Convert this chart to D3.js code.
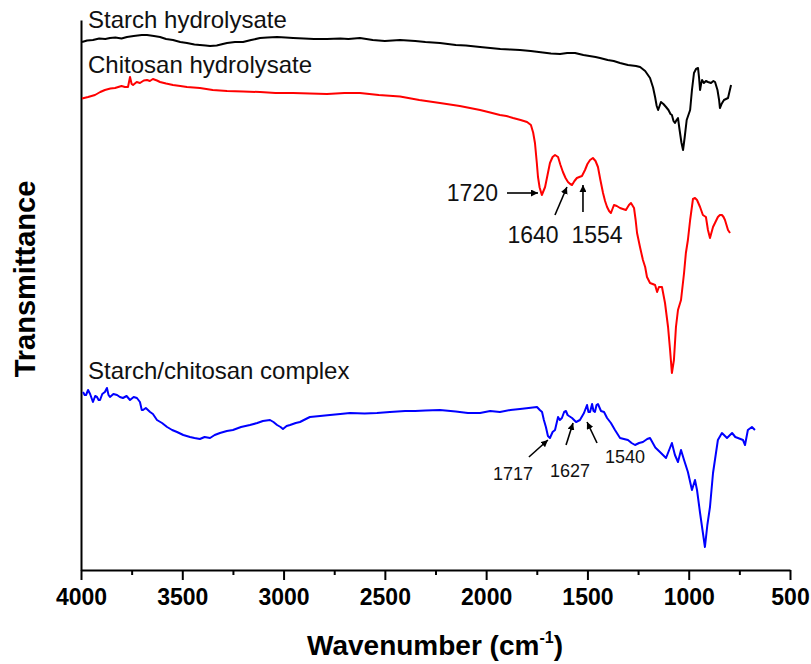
<!DOCTYPE html>
<html>
<head>
<meta charset="utf-8">
<script src="https://cdn.jsdelivr.net/npm/d3@7/dist/d3.min.js"></script>
<style>
  html, body { margin: 0; padding: 0; background: #fff; }
  svg { display: block; font-family: "Liberation Sans", Arial, Helvetica, sans-serif; }
</style>
</head>
<body>
<svg id="chart" width="811" height="664"></svg>
<script>
// FTIR spectra: [wavenumber (cm-1), transmittance (a.u., curves offset vertically)]
const starchHydrolysate = [
  [3995,105.6],[3970,105.9],[3941,106.0],[3910,106.3],[3880,106.2],[3857,106.4],[3830,106.5],[3800,106.3],
  [3773,106.6],[3740,106.8],[3700,107.0],[3674,107.0],[3640,106.8],[3610,106.6],[3580,106.2],[3546,106.0],
  [3510,105.6],[3477,105.4],[3440,105.1],[3413,105.0],[3385,104.9],[3363,104.8],[3330,104.9],[3300,105.2],
  [3279,105.4],[3240,105.6],[3200,105.6],[3160,106.0],[3116,106.4],[3080,106.5],[3032,106.6],[2990,106.5],
  [2953,106.4],[2900,106.3],[2850,106.2],[2786,106.2],[2720,106.3],[2680,106.2],[2623,106.4],[2560,106.0],
  [2500,105.8],[2425,106.0],[2350,105.8],[2300,105.6],[2228,105.4],[2150,105.0],[2100,104.9],[2030,104.6],
  [1980,104.4],[1930,104.2],[1880,104.1],[1833,104.0],[1780,103.8],[1720,103.5],[1680,103.3],[1635,103.2],
  [1600,103.4],[1561,103.4],[1520,103.0],[1490,102.8],[1460,102.6],[1438,102.4],[1400,102.0],[1370,101.8],
  [1339,101.4],[1300,101.0],[1260,100.8],[1240,100.6],[1215,99.8],[1191,98.4],[1176,96.5],[1166,94.6],
  [1158,92.8],[1151,92.0],[1144,92.8],[1137,93.6],[1125,93.2],[1112,92.6],[1100,92.0],[1090,91.2],
  [1083,91.0],[1075,89.8],[1068,89.4],[1060,90.0],[1053,90.4],[1045,88.0],[1036,85.5],[1028,84.0],
  [1020,86.5],[1010,90.0],[993,92.0],[984,96.0],[974,99.4],[964,100.2],[954,100.4],[949,98.5],
  [944,96.0],[939,97.2],[934,98.0],[925,97.4],[915,97.8],[905,97.6],[890,97.4],[878,97.8],
  [870,97.6],[858,96.0],[850,94.0],[846,92.4],[838,93.2],[826,94.0],[816,94.2],[806,94.4],
  [798,95.8],[791,97.0]
];

const chitosanHydrolysate = [
  [3995,94.3],[3965,94.6],[3931,95.0],[3905,95.6],[3882,96.0],[3855,96.3],[3832,96.4],[3800,96.8],
  [3783,96.6],[3768,96.6],[3758,98.6],[3750,97.2],[3743,97.0],[3725,97.6],[3709,97.4],[3690,97.9],
  [3674,98.0],[3660,97.8],[3645,98.2],[3625,97.9],[3610,97.6],[3580,97.3],[3546,97.0],[3510,96.8],
  [3477,96.6],[3445,96.5],[3413,96.4],[3350,96.0],[3279,95.8],[3200,95.7],[3116,95.6],[3040,95.4],
  [2953,95.4],[2870,95.3],[2786,95.2],[2700,95.4],[2623,95.4],[2530,95.0],[2425,94.7],[2330,94.0],
  [2228,93.4],[2130,92.8],[2030,92.0],[1980,91.5],[1932,91.0],[1900,90.8],[1867,90.4],[1830,90.0],
  [1798,89.6],[1779,89.0],[1768,87.5],[1759,85.4],[1750,81.5],[1744,78.6],[1736,76.5],[1725,75.0],
  [1709,76.6],[1697,79.0],[1685,81.4],[1672,82.6],[1660,83.0],[1645,82.6],[1633,81.0],[1621,79.6],
  [1608,78.4],[1596,77.6],[1585,77.2],[1576,77.0],[1564,77.8],[1552,78.4],[1540,78.6],[1527,78.8],
  [1512,80.0],[1500,81.2],[1487,82.0],[1473,82.4],[1460,81.8],[1448,80.6],[1436,78.0],[1423,75.4],
  [1413,73.8],[1403,72.6],[1393,71.8],[1384,71.4],[1369,73.0],[1355,72.8],[1339,72.4],[1325,72.2],
  [1310,72.0],[1295,73.0],[1285,73.4],[1270,72.4],[1262,70.0],[1255,67.4],[1240,64.5],[1226,62.0],
  [1215,60.6],[1206,58.6],[1191,57.4],[1178,57.2],[1166,57.0],[1156,55.6],[1147,56.6],[1132,56.6],
  [1117,53.4],[1102,48.6],[1092,44.0],[1083,39.4],[1073,42.0],[1063,48.6],[1053,52.0],[1038,54.0],
  [1023,59.4],[1014,63.4],[1004,66.0],[993,70.0],[979,74.2],[969,74.4],[959,74.0],[944,72.6],
  [930,71.0],[915,70.6],[905,68.0],[895,66.4],[880,68.6],[868,69.6],[856,70.6],[846,71.0],
  [836,71.0],[828,70.6],[821,70.0],[806,68.0],[796,67.4]
];

const starchChitosanComplex = [
  [3990,35.6],[3982,35.0],[3975,35.0],[3965,36.0],[3955,35.2],[3941,33.6],[3930,34.8],[3921,34.6],
  [3913,34.0],[3906,34.0],[3895,35.2],[3882,35.6],[3872,36.4],[3864,35.0],[3857,34.6],[3840,35.2],
  [3822,35.0],[3808,34.6],[3793,34.4],[3775,34.8],[3758,34.0],[3740,34.6],[3724,34.4],[3709,33.6],
  [3700,32.0],[3694,32.0],[3680,32.4],[3659,31.6],[3645,31.2],[3625,30.0],[3600,29.4],[3575,28.6],
  [3550,28.0],[3526,27.6],[3495,27.0],[3462,26.6],[3440,26.4],[3413,26.2],[3390,26.6],[3363,26.4],
  [3340,27.0],[3314,27.4],[3280,27.8],[3250,28.0],[3210,28.6],[3166,29.0],[3130,29.4],[3102,29.8],
  [3067,30.0],[3050,29.6],[3032,29.0],[3015,28.6],[3003,28.2],[2985,28.8],[2968,29.0],[2940,29.4],
  [2919,29.6],[2890,30.2],[2870,30.6],[2820,30.8],[2771,31.0],[2720,31.2],[2672,31.4],[2600,31.3],
  [2539,31.4],[2475,31.6],[2400,31.8],[2350,31.8],[2300,31.9],[2228,32.0],[2150,31.7],[2090,31.4],
  [2030,31.4],[1980,31.8],[1932,31.6],[1880,32.0],[1833,32.2],[1790,32.4],[1749,32.6],[1735,32.0],
  [1724,31.6],[1715,30.0],[1705,28.6],[1695,26.8],[1685,26.4],[1672,27.6],[1660,28.0],[1645,30.6],
  [1636,30.0],[1626,30.4],[1615,31.6],[1606,31.8],[1598,31.0],[1591,30.8],[1576,30.4],[1556,29.6],
  [1537,30.0],[1517,31.4],[1502,33.0],[1495,31.6],[1487,31.6],[1477,33.2],[1470,31.8],[1463,31.6],
  [1455,33.0],[1448,33.2],[1433,31.8],[1418,31.6],[1403,30.4],[1384,29.4],[1364,28.0],[1339,26.4],
  [1320,26.2],[1300,26.0],[1282,25.4],[1265,25.0],[1245,25.4],[1226,25.6],[1205,26.2],[1191,26.4],
  [1165,24.5],[1142,23.6],[1112,22.4],[1083,25.4],[1068,23.0],[1053,21.6],[1038,24.0],[1023,22.0],
  [1004,19.6],[984,16.0],[969,18.0],[959,16.0],[944,11.4],[932,8.0],[920,4.6],[908,9.0],
  [895,12.6],[880,19.4],[856,26.0],[836,27.4],[811,26.4],[786,27.4],[770,26.6],[757,26.4],
  [732,26.0],[722,25.0],[708,28.0],[688,28.6],[673,28.0]
];

const seriesNames = ["Starch hydrolysate", "Chitosan hydrolysate", "Starch/chitosan complex"];
const seriesColors = ["#000000", "#ff0000", "#0000ff"];
const seriesData = [starchHydrolysate, chitosanHydrolysate, starchChitosanComplex];

// Tick labels on the wavenumber axis
const majorTicks = [4000, 3500, 3000, 2500, 2000, 1500, 1000, 500];
const minorTicks = [3750, 3250, 2750, 2250, 1750, 1250, 750];

// Band assignments: label, arrow tip wavenumber, arrow tip transmittance
const peakLabels = ["1720", "1640", "1554", "1717", "1627", "1540"];
const peakTipWn  = [1744, 1601, 1522, 1695, 1571, 1502];
const peakTipT   = [75.4, 76.6, 77.0, 26.0, 29.4, 29.6];

// Layout of the annotation arrows (pixel offsets from the tip)
const peakLayout = [
  { tail: [-31, 0],  text: [-40, 8],  anchor: "end",    size: 23 },
  { tail: [-12, 28], text: [-34, 56], anchor: "middle", size: 23 },
  { tail: [0, 27],   text: [14, 58],  anchor: "middle", size: 23 },
  { tail: [-19, 17], text: [-35, 40], anchor: "middle", size: 18 },
  { tail: [-7, 22],  text: [-3, 54],  anchor: "middle", size: 18 },
  { tail: [10, 21],  text: [38, 41],  anchor: "middle", size: 18 }
];

const svg = d3.select("#chart");
const x = d3.scaleLinear().domain([4000, 500]).range([81, 790]);
const y = d3.scaleLinear().domain([0, 110]).range([570, 20]);

// Arrowhead marker
svg.append("defs").append("marker")
  .attr("id", "arrowhead")
  .attr("viewBox", "0 0 10 10")
  .attr("refX", 10).attr("refY", 5)
  .attr("markerWidth", 7).attr("markerHeight", 7)
  .attr("markerUnits", "userSpaceOnUse")
  .attr("orient", "auto")
  .append("path").attr("d", "M0,0 L10,5 L0,10 Z").attr("fill", "#000");

// Bottom axis: major ticks with labels, minor ticks without
const xAxis = svg.append("g").attr("transform", "translate(0,570)")
  .call(d3.axisBottom(x).tickValues(majorTicks).tickSize(10).tickSizeOuter(0).tickFormat(d3.format("d")));
xAxis.select(".domain").attr("stroke", "#000").attr("stroke-width", 2);
xAxis.selectAll(".tick line").attr("stroke", "#000").attr("stroke-width", 2);
xAxis.selectAll(".tick text")
  .attr("y", 35).attr("dy", 0)
  .attr("fill", "#000")
  .style("font-size", "23px").style("font-weight", "bold")
  .style("font-family", "'Liberation Sans', Arial, sans-serif");

const xMinor = svg.append("g").attr("transform", "translate(0,570)")
  .call(d3.axisBottom(x).tickValues(minorTicks).tickSize(5).tickSizeOuter(0).tickFormat(""));
xMinor.select(".domain").remove();
xMinor.selectAll(".tick line").attr("stroke", "#000").attr("stroke-width", 2);

// Left axis: a plain line, no ticks
const yAxis = svg.append("g").attr("transform", "translate(81,0)")
  .call(d3.axisLeft(y).tickValues([]).tickSizeOuter(0));
yAxis.select(".domain").attr("stroke", "#000").attr("stroke-width", 2);

// Spectra
const line = d3.line().x(d => x(d[0])).y(d => y(d[1]));
svg.append("g").selectAll("path.spectrum")
  .data(seriesData)
  .join("path")
  .attr("class", "spectrum")
  .attr("d", line)
  .attr("fill", "none")
  .attr("stroke", (d, i) => seriesColors[i])
  .attr("stroke-width", 2)
  .attr("stroke-linejoin", "round");

// Series names
const nameY = [28, 73, 379];
svg.append("g").selectAll("text")
  .data(seriesNames)
  .join("text")
  .attr("x", 88)
  .attr("y", (d, i) => nameY[i])
  .attr("fill", "#111")
  .style("font-size", "24px")
  .text(d => d);

// Band annotations
const ann = svg.append("g");
peakLabels.forEach((lab, i) => {
  const tx = x(peakTipWn[i]), ty = y(peakTipT[i]);
  const L = peakLayout[i];
  ann.append("line")
    .attr("x1", tx + L.tail[0]).attr("y1", ty + L.tail[1])
    .attr("x2", tx).attr("y2", ty)
    .attr("stroke", "#000").attr("stroke-width", 1.6)
    .attr("marker-end", "url(#arrowhead)");
  ann.append("text")
    .attr("x", tx + L.text[0]).attr("y", ty + L.text[1])
    .attr("text-anchor", L.anchor)
    .attr("fill", "#111")
    .style("font-size", L.size + "px")
    .text(lab);
});

// Axis titles
const xTitle = svg.append("text")
  .attr("x", 435).attr("y", 655)
  .attr("text-anchor", "middle")
  .style("font-size", "28px").style("font-weight", "bold");
xTitle.append("tspan").text("Wavenumber (cm");
xTitle.append("tspan").attr("dy", -12).style("font-size", "16px").text("-1");
xTitle.append("tspan").attr("dy", 12).text(")");

svg.append("text")
  .attr("transform", "translate(35,279) rotate(-90)")
  .attr("text-anchor", "middle")
  .style("font-size", "29px").style("font-weight", "bold")
  .text("Transmittance");
</script>
</body>
</html>
